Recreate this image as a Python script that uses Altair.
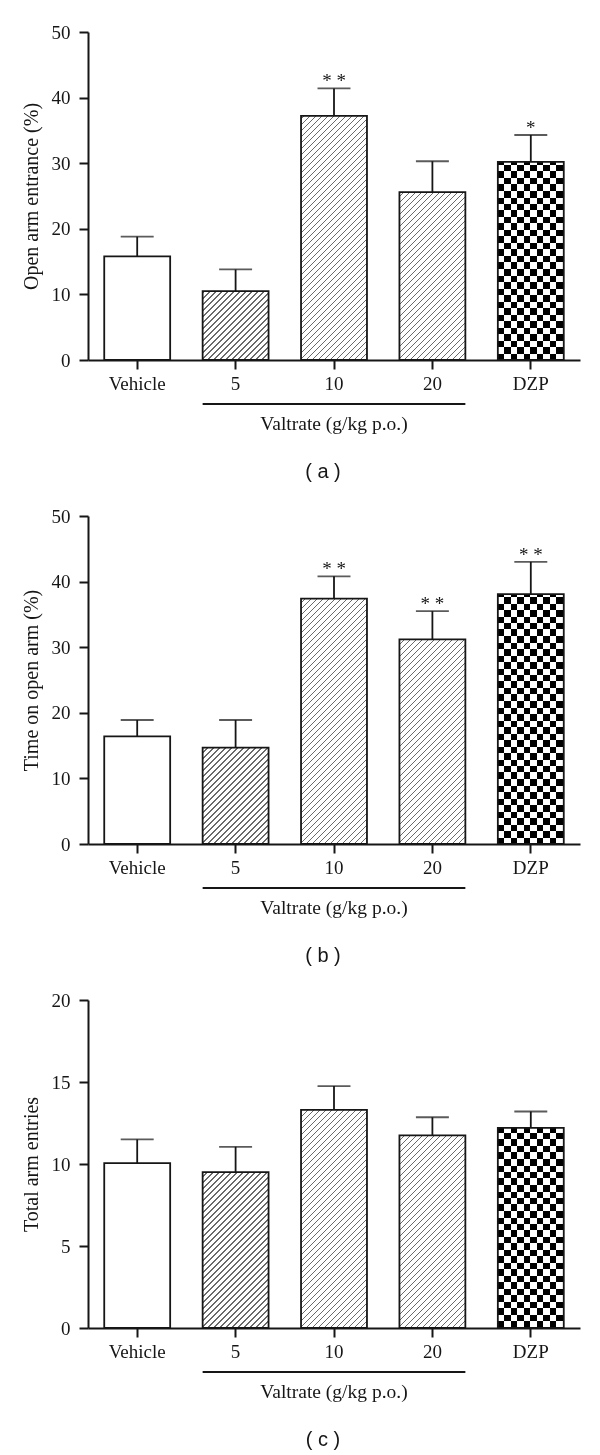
import altair as alt
import pandas as pd

# ---------------- data ----------------
groups = ["Vehicle", "5", "10", "20", "DZP"]
styles = ["plain", "hatch", "hatch", "hatch", "checker"]

a_mean = [15.8, 10.5, 37.2, 25.6, 30.2]
a_sem = [3.0, 3.3, 4.2, 4.7, 4.1]
a_sig = ["", "", "* *", "", "*"]

b_mean = [16.4, 14.7, 37.4, 31.2, 38.1]
b_sem = [2.5, 4.2, 3.4, 4.3, 4.9]
b_sig = ["", "", "* *", "* *", "* *"]

c_mean = [10.05, 9.5, 13.3, 11.75, 12.2]
c_sem = [1.45, 1.55, 1.45, 1.1, 1.0]
c_sig = ["", "", "", "", ""]

y_titles = ["Open arm entrance (%)", "Time on open arm (%)", "Total arm entries"]
y_max = [50, 50, 20]
y_step = [10, 10, 5]
captions = ["( a )", "( b )", "( c )"]
group_label = ["Valtrate (g/kg p.o.)"]

# ---------------- layout / style ----------------
W, H = 492, 328
PI, PO = 0.33, 0.165
STEP = W / (len(groups) - PI + 2 * PO)
BW = STEP * (1 - PI)
CELL = 6.5
SEG_PX = 56.0
PERIOD = 6.0
INK = "#161616"
SERIF = "Liberation Serif"
SANS = "Liberation Sans"


def hatch_fill(w, h, y_top, lw=1.5, color="#6a6a6a"):
    """Diagonal '/' hatch as a hard-stop gradient; phase tied to plot pixel rows."""
    L = w + h
    stops = [{"offset": 0, "color": "#ffffff"}]
    s = (2.0 - y_top) % PERIOD - PERIOD
    while s < L:
        a, b = max(s, 0.0) / L, min(s + lw, L) / L
        if b > a:
            stops += [
                {"offset": a, "color": "#ffffff"},
                {"offset": a, "color": color},
                {"offset": b, "color": color},
                {"offset": b, "color": "#ffffff"},
            ]
        s += PERIOD
    stops.append({"offset": 1, "color": "#ffffff"})
    k = L / (w * w + h * h)
    return {"gradient": "linear", "x1": 0, "y1": 0, "x2": w * k, "y2": h * k, "stops": stops}


def stripes(length, cell, across_x):
    stops = []
    n = int(length // cell) + 1
    for j in range(n):
        a = min(j * cell / length, 1.0)
        b = min((j + 1) * cell / length, 1.0)
        col = "#000000" if j % 2 == 0 else "#ffffff"
        stops += [{"offset": a, "color": col}, {"offset": b, "color": col}]
    if across_x:
        return {"gradient": "linear", "x1": 0, "y1": 0, "x2": 1, "y2": 0, "stops": stops}
    return {"gradient": "linear", "x1": 0, "y1": 1, "x2": 0, "y2": 0, "stops": stops}


x_left = PO * STEP + STEP            # left edge of the "5" bar
x_right = PO * STEP + 3 * STEP + BW  # right edge of the "20" bar


def panel(means, sems, sigs, ymax, ystep, ytitle, caption):
    df = pd.DataFrame({
        "group": groups,
        "mean": means,
        "upper": [m + s for m, s in zip(means, sems)],
        "sig": sigs,
    })
    x_axis = alt.Axis(
        title=None, labelAngle=0, labelFont=SERIF, labelFontSize=19, labelColor=INK,
        labelPadding=5, tickSize=9, tickWidth=2, tickColor=INK,
        domainColor=INK, domainWidth=2,
    )
    y_axis = alt.Axis(
        title=ytitle, values=list(range(0, ymax + 1, ystep)), format="d",
        labelFont=SERIF, labelFontSize=19, labelColor=INK, labelPadding=9,
        tickSize=9, tickWidth=2, tickColor=INK, domainColor=INK, domainWidth=2,
        grid=False, titleFont=SERIF, titleFontSize=20, titleFontWeight="normal",
        titleColor=INK, titleX=-57, titleY=H / 2, titleBaseline="middle",
    )
    xs = alt.Scale(paddingInner=PI, paddingOuter=PO)
    ys = alt.Scale(domain=[0, ymax], nice=False)
    X = alt.X("group:N", sort=groups, scale=xs, axis=x_axis)
    Ym = alt.Y("mean:Q", scale=ys, axis=y_axis)
    Yu = alt.Y("upper:Q", scale=ys, axis=y_axis)

    base = alt.Chart(df)
    layers = [base.mark_bar(fill="#ffffff").encode(x=X, y=Ym)]
    seg_val = SEG_PX / H * ymax
    for g, m, st in zip(groups, means, styles):
        h = m / ymax * H
        sub = base.transform_filter(alt.datum.group == g)
        if st == "hatch":
            lo = 0.0
            while lo < m - 1e-9:
                hi = min(lo + seg_val, m)
                h_seg = (hi - lo) / ymax * H
                y_top = H - hi / ymax * H
                seg = sub.transform_calculate(lo=f"{lo}", hi=f"{hi}")
                layers.append(
                    seg.mark_bar(fill=hatch_fill(BW, h_seg, y_top)).encode(
                        x=X, y=alt.Y("hi:Q", scale=ys, axis=y_axis), y2="lo:Q"
                    )
                )
                lo = hi
        elif st == "checker":
            layers.append(sub.mark_bar(fill=stripes(BW, CELL, True)).encode(x=X, y=Ym))
            layers.append(sub.mark_bar(fill=stripes(h, CELL, False), blend="difference").encode(x=X, y=Ym))
    layers.append(base.mark_bar(fill="#ffffff", fillOpacity=0, stroke=INK, strokeWidth=1.8).encode(x=X, y=Ym))
    layers.append(base.mark_rule(color=INK, strokeWidth=1.8).encode(x=X, y=Ym, y2="upper:Q"))
    layers.append(base.mark_tick(color=INK, thickness=1.8, size=BW / 2).encode(x=X, y=Yu))
    layers.append(base.mark_text(font=SERIF, fontSize=19, color=INK, baseline="alphabetic", dy=-1).encode(
        x=X, y=Yu, text="sig:N"))

    lab = pd.DataFrame({"label": group_label, "caption": [caption]})
    lb = alt.Chart(lab)
    layers.append(lb.mark_rule(color=INK, strokeWidth=1.8).encode(
        x=alt.value(x_left), x2=alt.value(x_right), y=alt.value(H + 44)))
    layers.append(lb.mark_text(font=SERIF, fontSize=19.5, color=INK, baseline="middle").encode(
        x=alt.value((x_left + x_right) / 2), y=alt.value(H + 64), text="label:N"))
    layers.append(lb.mark_text(font=SANS, fontSize=20, color=INK, baseline="middle").encode(
        x=alt.value(235), y=alt.value(H + 112), text="caption:N"))
    return alt.layer(*layers).properties(width=W, height=H)


panels = [
    panel(a_mean, a_sem, a_sig, y_max[0], y_step[0], y_titles[0], captions[0]),
    panel(b_mean, b_sem, b_sig, y_max[1], y_step[1], y_titles[1], captions[1]),
    panel(c_mean, c_sem, c_sig, y_max[2], y_step[2], y_titles[2], captions[2]),
]

chart = (
    alt.vconcat(*panels, spacing=25)
    .properties(padding={"left": 13, "top": 15, "right": 5, "bottom": 5}, background="white")
    .configure_view(stroke=None)
)

chart.save("out.html", embed_options={"renderer": "svg", "actions": False})
